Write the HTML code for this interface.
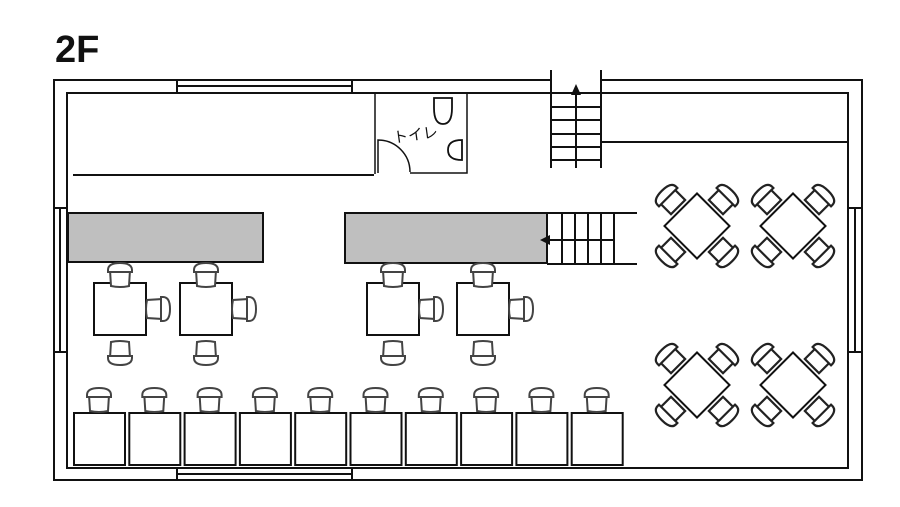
<!DOCTYPE html>
<html><head><meta charset="utf-8"><style>
html,body{margin:0;padding:0;background:#fff;width:900px;height:507px;overflow:hidden}
svg{display:block}
</style></head><body>
<svg width="900" height="507" viewBox="0 0 900 507" xmlns="http://www.w3.org/2000/svg">
<defs>
<g id="ch">
<path d="M-10,-6 L10,-6 L9,10 Q0,12 -9,10 Z" fill="#fff" stroke="#444" stroke-width="2"/>
<path d="M-12,-6 Q-12,-13 0,-13 Q12,-13 12,-6 L12,-4 L-12,-4 Z" fill="#fff" stroke="#444" stroke-width="2"/>
</g>
<g id="dch">
<path d="M-10,-6 L10,-6 L10,10 L-10,10 Z" fill="#fff" stroke="#222" stroke-width="2.2"/>
<path d="M-13,-6 Q-13,-13 0,-13 Q13,-13 13,-6 L13,-4 L-13,-4 Z" fill="#fff" stroke="#222" stroke-width="2.2"/>
</g>
<g id="dt">
<g transform="translate(-26,-26) rotate(-45)"><use href="#dch"/></g>
<g transform="translate(26,-26) rotate(45)"><use href="#dch"/></g>
<g transform="translate(-26,26) rotate(-135)"><use href="#dch"/></g>
<g transform="translate(26,26) rotate(135)"><use href="#dch"/></g>
<rect x="-23" y="-23" width="46" height="46" fill="#fff" stroke="#111" stroke-width="2" transform="rotate(45)"/>
</g>
</defs>
<text x="55" y="62" font-family="Liberation Sans, sans-serif" font-size="38" font-weight="bold" fill="#111">2F</text>
<g fill="none" stroke="#111" stroke-width="2">
<polyline points="551,80 54,80 54,480 862,480 862,80 601,80"/>
<polyline points="551,93 67,93 67,468 848,468 848,93 601,93"/>
<rect x="177" y="80" width="175" height="13" fill="#fff"/><line x1="177" y1="86" x2="352" y2="86"/>
<rect x="177" y="468" width="175" height="12" fill="#fff"/><line x1="177" y1="474" x2="352" y2="474"/>
<rect x="54" y="208" width="13" height="144" fill="#fff"/><line x1="60" y1="208" x2="60" y2="352"/>
<rect x="848" y="208" width="14" height="144" fill="#fff"/><line x1="855" y1="208" x2="855" y2="352"/>
<line x1="73" y1="175" x2="374" y2="175"/>
<line x1="601" y1="142" x2="848" y2="142"/>
<polyline points="375,93 375,174" stroke-width="1.5"/>
<polyline points="467,93 467,173 410,173" stroke-width="1.5"/>
<path d="M378,173 L378,140 A32,32 0 0 1 410,172" stroke-width="1.5"/>
<path d="M434,98 L452,98 L452,108 Q452,124 443,124 Q434,124 434,108 Z" stroke-width="1.8"/>
<path d="M462,140 Q448,140 448,150 Q448,160 462,160 Z" stroke-width="1.8"/>
<line x1="551" y1="70" x2="551" y2="168"/><line x1="601" y1="70" x2="601" y2="168"/>
<line x1="576" y1="95" x2="576" y2="168"/>
<line x1="551" y1="93" x2="601" y2="93"/><line x1="551" y1="107" x2="601" y2="107"/>
<line x1="551" y1="120" x2="601" y2="120"/><line x1="551" y1="134" x2="601" y2="134"/>
<line x1="551" y1="147" x2="601" y2="147"/><line x1="551" y1="160" x2="601" y2="160"/>
<rect x="68" y="213" width="195" height="49" fill="#bfbfbf"/>
<rect x="345" y="213" width="202" height="50" fill="#bfbfbf"/>
<line x1="547" y1="213" x2="637" y2="213"/><line x1="547" y1="264" x2="637" y2="264"/>
<line x1="562" y1="213" x2="562" y2="264"/><line x1="575" y1="213" x2="575" y2="264"/>
<line x1="588" y1="213" x2="588" y2="264"/><line x1="601" y1="213" x2="601" y2="264"/>
<line x1="614" y1="213" x2="614" y2="264"/><line x1="550" y1="240" x2="614" y2="240"/>
</g>
<polygon points="576,84 571,95 581,95" fill="#111"/>
<polygon points="540,240 550,235 550,245" fill="#111"/>
<text x="393" y="140" font-family="Liberation Sans, 'Noto Sans CJK JP', sans-serif" font-size="15" fill="#111" transform="rotate(-8 415 135)">トイレ</text>
<g id="t4">
<rect x="94" y="283" width="52" height="52" fill="#fff" stroke="#111" stroke-width="2"/>
<g transform="translate(120,276)"><use href="#ch"/></g>
<g transform="translate(157,309) rotate(90)"><use href="#ch"/></g>
<g transform="translate(120,352) rotate(180)"><use href="#ch"/></g>
</g>
<use href="#t4" x="86"/><use href="#t4" x="273"/><use href="#t4" x="363"/>
<g id="bt">
<rect x="74" y="413" width="51" height="52" fill="#fff" stroke="#111" stroke-width="2"/>
<g transform="translate(99,401)"><use href="#ch"/></g>
</g>
<use href="#bt" x="55.3"/><use href="#bt" x="110.6"/><use href="#bt" x="165.9"/><use href="#bt" x="221.2"/>
<use href="#bt" x="276.5"/><use href="#bt" x="331.8"/><use href="#bt" x="387.1"/><use href="#bt" x="442.4"/><use href="#bt" x="497.7"/>
<use href="#dt" x="697" y="226"/><use href="#dt" x="793" y="226"/>
<use href="#dt" x="697" y="385"/><use href="#dt" x="793" y="385"/>
</svg>
</body></html>
